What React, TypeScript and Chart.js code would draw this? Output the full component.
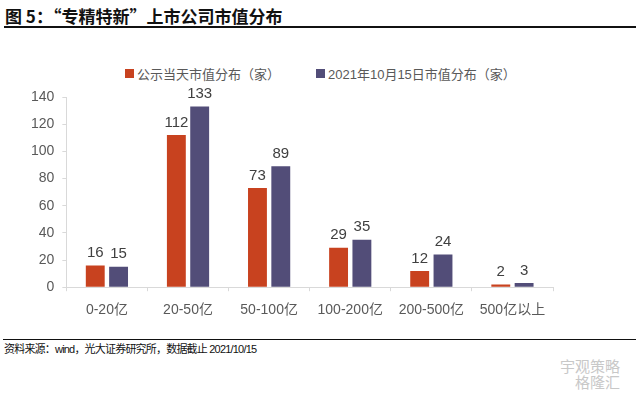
import React, { useEffect, useRef } from "react";
import { Chart, registerables } from "chart.js";

Chart.register(...registerables);

const categories = ["0-20亿", "20-50亿", "50-100亿", "100-200亿", "200-500亿", "500亿以上"];
const announceDay = [16, 112, 73, 29, 12, 2];
const oct15 = [15, 133, 89, 35, 24, 3];
const seriesNames = ["公示当天市值分布（家）", "2021年10月15日市值分布（家）"];
const yTicks = [0, 20, 40, 60, 80, 100, 120, 140];

const RED = "#C8421F";
const BLUE = "#524D78";
const FONT = "'Liberation Sans', Arial, 'Noto Sans CJK SC', sans-serif";

const labelPlugin = {
  id: "barLabels",
  afterDatasetsDraw(chart: any) {
    const ctx = chart.ctx;
    ctx.save();
    ctx.font = `15px ${FONT}`;
    ctx.fillStyle = "#404040";
    ctx.textAlign = "center";
    ctx.textBaseline = "bottom";
    chart.data.datasets.forEach((ds: any, i: number) => {
      const meta = chart.getDatasetMeta(i);
      meta.data.forEach((bar: any, j: number) => {
        ctx.fillText(String(ds.data[j]), bar.x, bar.y - 5);
      });
    });
    ctx.restore();
  },
};

export default function App() {
  const ref = useRef<HTMLCanvasElement>(null);
  useEffect(() => {
    document.body.style.margin = "0";
    const chart = new Chart(ref.current!, {
      type: "bar",
      data: {
        labels: categories,
        datasets: [
          { label: seriesNames[0], data: announceDay, backgroundColor: RED, categoryPercentage: 0.575, barPercentage: 0.81 },
          { label: seriesNames[1], data: oct15, backgroundColor: BLUE, categoryPercentage: 0.575, barPercentage: 0.81 },
        ],
      },
      options: {
        responsive: false,
        animation: false,
        devicePixelRatio: 1,
        layout: { padding: { left: 23, right: 88, top: 17, bottom: 0 } },
        plugins: { legend: { display: false }, tooltip: { enabled: false } },
        scales: {
          x: {
            grid: { display: true, drawOnChartArea: false, drawTicks: true, tickLength: 4, color: "#d9d9d9" },
            border: { display: true, color: "#d9d9d9" },
            ticks: { color: "#595959", font: { family: FONT, size: 14 }, padding: 11, maxRotation: 0 },
          },
          y: {
            min: 0,
            max: 140,
            afterBuildTicks: (s: any) => { s.ticks = yTicks.map((v) => ({ value: v })); },
            grid: { display: true, drawOnChartArea: false, drawTicks: true, tickLength: 4, color: "#d9d9d9" },
            border: { display: true, color: "#d9d9d9" },
            ticks: { color: "#595959", font: { family: FONT, size: 14 }, padding: 8 },
          },
        },
      },
      plugins: [labelPlugin],
    });
    return () => chart.destroy();
  }, []);

  const legendItem = (color: string, text: string, left: number) => (
    <div style={{ position: "absolute", left, top: 64, display: "flex", alignItems: "center", fontFamily: FONT, fontSize: 13, color: "#595959", whiteSpace: "nowrap" }}>
      <span style={{ display: "inline-block", width: 9, height: 9, background: color, marginRight: 3 }} />
      <span>{text}</span>
    </div>
  );

  return (
    <div style={{ position: "relative", width: 641, height: 395, background: "#fff", overflow: "hidden" }}>
      <div style={{ position: "absolute", left: 5, top: 3, fontFamily: "'Noto Sans CJK SC', sans-serif", fontWeight: 700, fontSize: 17, color: "#111", whiteSpace: "nowrap" }}>
        图 5：“专精特新”上市公司市值分布
      </div>
      <div style={{ position: "absolute", left: 4, top: 26, width: 632, height: 2, background: "#111" }} />
      {legendItem(RED, seriesNames[0], 125)}
      {legendItem(BLUE, seriesNames[1], 316)}
      <canvas ref={ref} width={641} height={250} style={{ position: "absolute", left: 0, top: 80, width: 641, height: 250 }} />
      <div style={{ position: "absolute", left: 3, top: 339, width: 633, height: 1, background: "#111" }} />
      <div style={{ position: "absolute", left: 4, top: 340, fontFamily: "'Liberation Sans', 'Noto Sans CJK SC', sans-serif", fontSize: 11, letterSpacing: "-0.8px", color: "#111", whiteSpace: "nowrap" }}>
        资料来源：wind，光大证券研究所，数据截止 2021/10/15
      </div>
      <div style={{ position: "absolute", left: 560, top: 358, fontFamily: "'Noto Sans CJK SC', sans-serif", fontSize: 15, color: "#c8c8c8", whiteSpace: "nowrap", lineHeight: "16px", textAlign: "right" }}>
        宇观策略
        <br />
        格隆汇
      </div>
    </div>
  );
}
